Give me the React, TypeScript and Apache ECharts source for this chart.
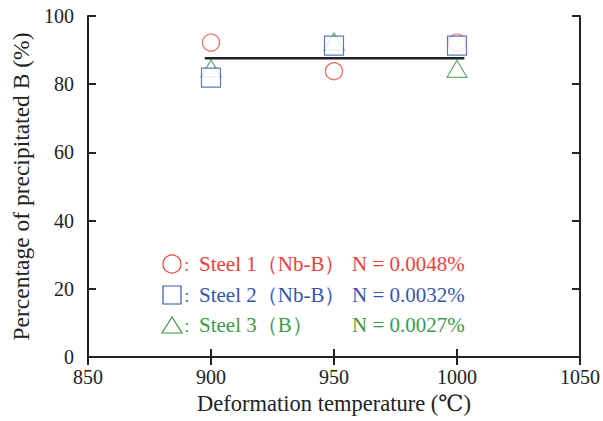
import React, { useEffect, useRef } from "react";
import * as echarts from "echarts";

const temperatures = [900, 950, 1000];
const steel1 = [92.2, 83.8, 92.2];
const steel2 = [81.9, 91.3, 91.3];
const steel3 = [84.6, 92.5, 84.5];
const meanLineX = [897.5, 1003];
const meanLineY = 87.6;
const legendLabels = ["Steel 1（Nb-B）", "Steel 2（Nb-B）", "Steel 3（B）"];
const legendN = ["N = 0.0048%", "N = 0.0032%", "N = 0.0027%"];
const colors = ["#e8423b", "#3656ab", "#3d9a48"];

const FONT = "'Times New Roman', 'Liberation Serif', 'DejaVu Serif', serif";

export default function App() {
  const ref = useRef<HTMLDivElement>(null);
  useEffect(() => {
    if (!ref.current) return;
    const chart = echarts.init(ref.current, undefined, { renderer: "svg" });
    const mk = (vals: number[]) => temperatures.map((t, i) => [t, vals[i]]);
    const axisCommon = {
      axisLine: { show: true, lineStyle: { color: "#222", width: 2 } },
      axisTick: { show: true, inside: true, length: 8, lineStyle: { color: "#222", width: 2 } },
      splitLine: { show: false },
    };
    const legendRowsY = [264, 295, 325];
    const legendGraphics: any[] = [];
    legendRowsY.forEach((y, i) => {
      const c = colors[i];
      if (i === 0) {
        legendGraphics.push({ type: "circle", shape: { cx: 172, cy: y, r: 9 }, style: { fill: "none", stroke: c, lineWidth: 1.2 } });
      } else if (i === 1) {
        legendGraphics.push({ type: "rect", shape: { x: 163, y: y - 9, width: 18, height: 18 }, style: { fill: "none", stroke: c, lineWidth: 1.2 } });
      } else {
        legendGraphics.push({ type: "polygon", shape: { points: [[172, y - 8], [162, y + 8], [182, y + 8]] }, style: { fill: "none", stroke: c, lineWidth: 1.2 } });
      }
      legendGraphics.push({ type: "text", x: 190, y, style: { text: "：", fill: c, fontSize: 13, fontFamily: "Noto Sans CJK SC", verticalAlign: "middle", align: "center" } });
      legendGraphics.push({ type: "text", x: 199, y, style: { text: legendLabels[i], fill: c, fontSize: 21, fontFamily: FONT, verticalAlign: "middle", align: "left" } });
      legendGraphics.push({ type: "text", x: 352, y, style: { text: legendN[i], fill: c, fontSize: 21, fontFamily: FONT, verticalAlign: "middle", align: "left" } });
    });
    chart.setOption({
      animation: false,
      backgroundColor: "#fff",
      textStyle: { fontFamily: FONT },
      grid: { left: 88, right: 21, top: 16, bottom: 64 },
      xAxis: [
        {
          type: "value", min: 850, max: 1050, interval: 50, position: "bottom",
          ...axisCommon,
          axisLabel: { color: "#222", fontSize: 20, margin: 10, fontFamily: FONT, formatter: (v: number) => String(v) },
          name: "Deformation temperature (℃)", nameLocation: "middle", nameGap: 35,
          nameTextStyle: { color: "#222", fontSize: 22.5, fontFamily: FONT },
        },
        {
          type: "value", min: 850, max: 1050, interval: 50, position: "top",
          ...axisCommon, axisLabel: { show: false },
        },
      ],
      yAxis: [
        {
          type: "value", min: 0, max: 100, interval: 20, position: "left",
          ...axisCommon,
          axisLabel: { color: "#222", fontSize: 20, margin: 14, fontFamily: FONT },
          name: "Percentage of precipitated B (%)", nameLocation: "middle", nameGap: 55,
          nameTextStyle: { color: "#222", fontSize: 23.5, fontFamily: FONT },
        },
        {
          type: "value", min: 0, max: 100, interval: 20, position: "right",
          ...axisCommon, axisLabel: { show: false },
        },
      ],
      series: [
        {
          type: "scatter", name: "Steel 1", data: mk(steel1), symbol: "circle", symbolSize: 17,
          itemStyle: { color: "#fff", borderColor: colors[0], borderWidth: 1.2 }, z: 2,
        },
        {
          type: "scatter", name: "Steel 3", data: mk(steel3), symbol: "triangle", symbolSize: [20, 17],
          itemStyle: { color: "#fff", borderColor: colors[2], borderWidth: 1.2 }, z: 3,
        },
        {
          type: "scatter", name: "Steel 2", data: mk(steel2), symbol: "rect", symbolSize: 19,
          itemStyle: { color: "#fff", borderColor: colors[1], borderWidth: 1.2 }, z: 4,
        },
        {
          type: "line", data: meanLineX.map((x) => [x, meanLineY]), symbol: "none",
          lineStyle: { color: "#222", width: 2.5 }, z: 5,
        },
      ],
      graphic: legendGraphics,
    });
    return () => chart.dispose();
  }, []);
  return <div ref={ref} style={{ position: "fixed", left: 0, top: 0, width: 603, height: 421 }} />;
}
